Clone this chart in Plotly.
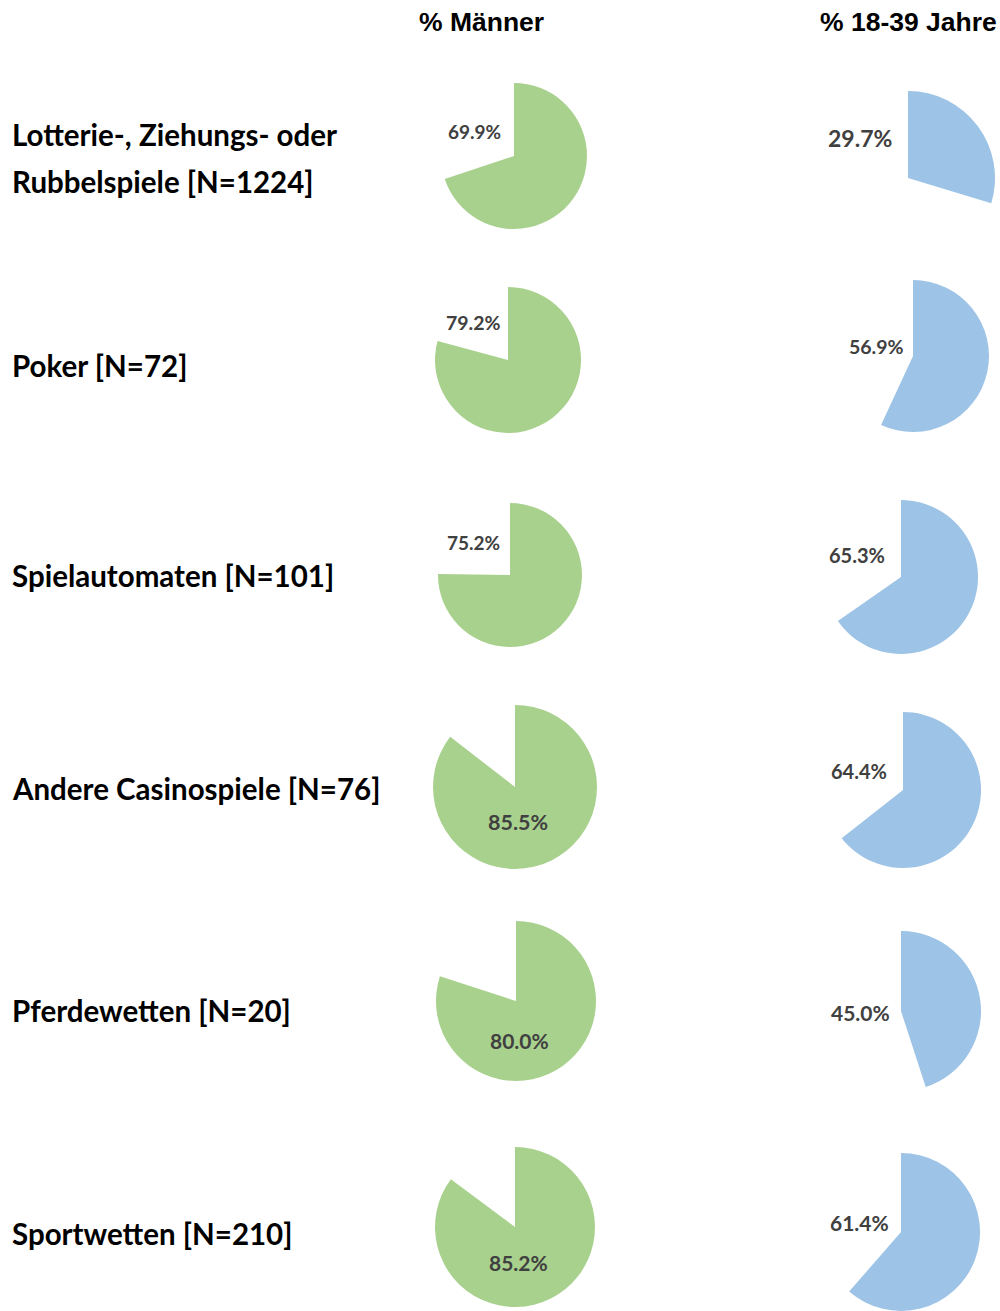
import plotly.graph_objects as go

# ---- data ----
categories = ["Lotterie-, Ziehungs- oder<br>Rubbelspiele", "Poker", "Spielautomaten",
              "Andere Casinospiele", "Pferdewetten", "Sportwetten"]
n_values = [1224, 72, 101, 76, 20, 210]
men_pct = [69.9, 79.2, 75.2, 85.5, 80.0, 85.2]
young_pct = [29.7, 56.9, 65.3, 64.4, 45.0, 61.4]
col_titles = ["% Männer", "% 18-39 Jahre"]

# ---- layout (pixel geometry) ----
W, H = 1000, 1311
green, blue = "#A9D18E", "#9DC3E6"
men_geo = [(514, 156, 73), (508, 360, 73), (510, 575, 72), (515, 787, 82), (516, 1001, 80), (515, 1227, 80)]
young_geo = [(908, 178, 87), (913, 356, 76), (901, 577, 77), (903, 790, 78), (901, 1011, 80), (901, 1232, 79)]
men_lbl = [(474, 131, 19), (473, 322, 19.5), (473, 542, 19), (518, 822, 21.5), (519, 1040, 21), (518, 1262, 21)]
young_lbl = [(860, 138, 23), (876, 346, 19.5), (857, 555, 20), (859, 771, 20), (860, 1013, 21), (859, 1222, 21)]
label_y = [(134, 181), (365,), (575,), (789,), (1010,), (1233,)]
col_x = [481, 908]


def clamp(v):
    return max(0.0, min(1.0, v))


fig = go.Figure()
for pcts, geo, color in [(men_pct, men_geo, green), (young_pct, young_geo, blue)]:
    for p, (cx, cy, r) in zip(pcts, geo):
        fig.add_trace(go.Pie(
            values=[p, 100 - p],
            marker=dict(colors=[color, "rgba(0,0,0,0)"], line=dict(width=0)),
            sort=False, direction="clockwise", rotation=0,
            textinfo="none", hoverinfo="skip", showlegend=False,
            domain=dict(x=[clamp((cx - r) / W), clamp((cx + r) / W)],
                        y=[clamp(1 - (cy + r) / H), clamp(1 - (cy - r) / H)]),
        ))

ann = []
for t, x in zip(col_titles, col_x):
    ann.append(dict(text=f"<b>{t}</b>", x=x / W, y=1 - 22 / H, xref="paper", yref="paper",
                    showarrow=False, xanchor="center", yanchor="middle",
                    font=dict(family="Liberation Sans, Arial", size=26.5, color="black")))

for cat, n, ys in zip(categories, n_values, label_y):
    lines = cat.split("<br>")
    lines[-1] = f"{lines[-1]} [N={n}]"
    for line, y in zip(lines, ys):
        ann.append(dict(text=f"<b>{line}</b>", x=10 / W, y=1 - y / H, xref="paper", yref="paper",
                        showarrow=False, xanchor="left", yanchor="middle",
                        font=dict(family="Lato", size=29.5, color="black")))

for pcts, lbl in [(men_pct, men_lbl), (young_pct, young_lbl)]:
    for p, (x, y, fs) in zip(pcts, lbl):
        ann.append(dict(text=f"<b>{p:.1f}%</b>", x=x / W, y=1 - y / H, xref="paper", yref="paper",
                        showarrow=False, xanchor="center", yanchor="middle",
                        font=dict(family="Lato", size=fs, color="#404040")))

fig.update_layout(width=W, height=H, autosize=False, margin=dict(l=0, r=0, t=0, b=0),
                  paper_bgcolor="white", plot_bgcolor="white", annotations=ann)
fig.write_html("out.html", config={"displayModeBar": False},
               post_script="document.body.style.margin='0';document.body.style.overflow='hidden';")
